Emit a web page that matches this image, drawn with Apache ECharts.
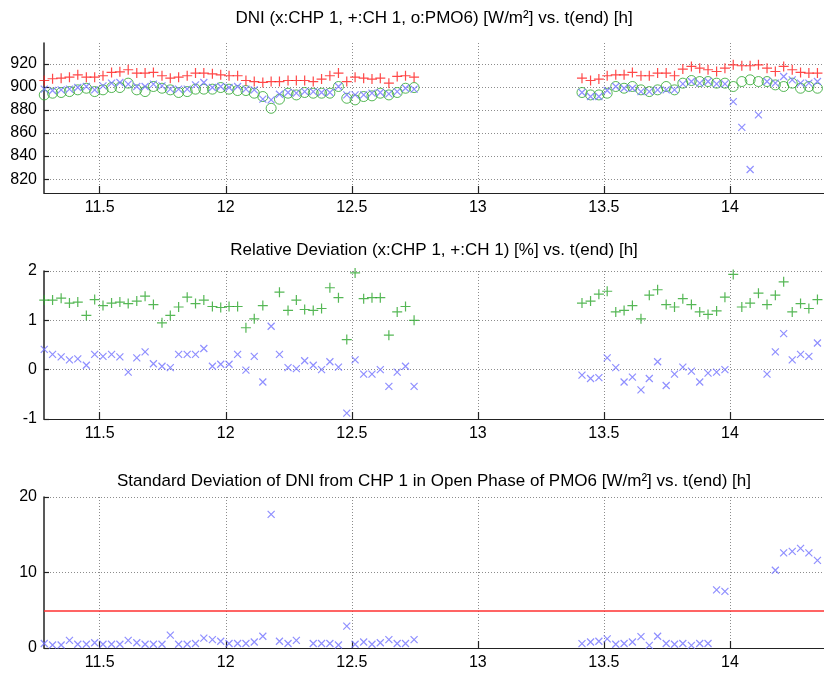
<!DOCTYPE html>
<html><head><meta charset="utf-8">
<script src="https://cdn.jsdelivr.net/npm/echarts@6/dist/echarts.min.js"></script>
<style>html,body{margin:0;padding:0;background:#fff}#c{width:824px;height:673px}</style>
</head><body><div id="c"></div>
<script>
// time stamps t(end) [h]
const times = [11.280, 11.313, 11.347, 11.380, 11.413, 11.447, 11.480, 11.513, 11.547, 11.580,
  11.613, 11.647, 11.680, 11.713, 11.747, 11.780, 11.813, 11.847, 11.880, 11.913,
  11.947, 11.980, 12.013, 12.047, 12.080, 12.113, 12.147, 12.180, 12.213, 12.247,
  12.280, 12.313, 12.347, 12.380, 12.413, 12.447, 12.480, 12.513, 12.547, 12.580,
  12.613, 12.647, 12.680, 12.713, 12.747,
  13.413, 13.447, 13.480, 13.513, 13.547, 13.580, 13.613, 13.647, 13.680, 13.713,
  13.747, 13.780, 13.813, 13.847, 13.880, 13.913, 13.947, 13.980, 14.013, 14.047,
  14.080, 14.113, 14.147, 14.180, 14.213, 14.247, 14.280, 14.313, 14.347];

// DNI [W/m2]
const dniCHP1 = [898, 896.8, 897.4, 898, 899.4, 900.3, 897.4, 900.9, 903.2, 903.8,
  902.3, 900.3, 900.3, 902.3, 900.9, 898, 898, 898, 901.7, 903.8,
  899.4, 900.3, 899.4, 900.3, 898, 897.4, 889.3, 888.7, 893.6, 895.1,
  894.5, 895.9, 895.9, 895.1, 895.1, 900.3, 893, 893, 893, 894.5,
  895.1, 893.9, 895.9, 898.8, 898,
  895.1, 891.6, 891.6, 896.8, 900.3, 898.8, 898.8, 895.9, 895.9, 897.4,
  897.4, 897.4, 902.6, 904.6, 903.2, 904.6, 902.6, 902.6, 887.2, 864.9,
  828.4, 875.7, 904.6, 903.2, 909, 906, 903.2, 903.2, 904.6];
const dniCH1 = [905.5, 907, 907.5, 908.4, 910.4, 908.4, 908.4, 909.6, 912.5, 913,
  914.8, 911.9, 911.9, 912.5, 909.6, 907.5, 908.4, 909.6, 911.9, 911.9,
  911.3, 910.4, 909.6, 909.6, 905.5, 904.6, 903.8, 904.6, 904.6, 905.5,
  905.5, 905.5, 904.6, 906.7, 909.6, 911.9, 904.6, 908.4, 907.5, 906.7,
  907.5, 903.2, 909, 909.6, 908.4,
  907.5, 905.5, 906.7, 909.6, 910.4, 910.4, 912.5, 909.6, 909.6, 911.9,
  911.9, 909.6, 915.4, 917.7, 916.2, 914.8, 913.3, 916.2, 919.1, 918.3,
  918.3, 919.1, 916.2, 913.3, 917.7, 914.8, 912.5, 911.9, 911.9];
const dniPMO6 = [893, 894.5, 895.1, 895.9, 897.4, 898.8, 895.9, 897.4, 899.4, 899.4,
  903.2, 897.4, 895.9, 900.3, 898.8, 897.4, 895.1, 895.9, 898, 898,
  898, 899.4, 898, 896.8, 896.8, 894.5, 891.6, 881.4, 889.3, 894.5,
  893, 895.1, 894.5, 894.5, 894.5, 900.3, 890.1, 888.7, 891.6, 892.2,
  894.5, 893, 895.1, 898.8, 899.4,
  895.1, 893, 893, 894.5, 900.3, 898.8, 900.3, 897.4, 895.9, 897.4,
  900.3, 897.4, 903.2, 905.5, 904.6, 904.6, 903.2, 903.2, 900.3, 904.6,
  906.1, 904.6, 904.6, 901.7, 900.3, 903.2, 898.8, 900.3, 898.8];

// Relative deviation [%]
const devCHP1 = [0.41, 0.31, 0.26, 0.20, 0.22, 0.09, 0.31, 0.27, 0.31, 0.26,
  -0.05, 0.24, 0.36, 0.12, 0.07, 0.04, 0.31, 0.31, 0.31, 0.43,
  0.07, 0.11, 0.11, 0.31, -0.01, 0.27, -0.25, 0.88, 0.31, 0.04,
  0.02, 0.18, 0.09, 0.0, 0.16, 0.05, -0.88, 0.20, -0.09, -0.09,
  0.0, -0.34, -0.05, 0.07, -0.34,
  -0.11, -0.18, -0.16, 0.24, 0.04, -0.25, -0.15, -0.41, -0.18, 0.16,
  -0.32, -0.09, 0.05, -0.03, -0.25, -0.07, -0.05, 0.0, null, null,
  null, null, -0.09, 0.36, 0.73, 0.20, 0.31, 0.27, 0.54];
const devCH1 = [1.41, 1.41, 1.45, 1.35, 1.37, 1.10, 1.42, 1.30, 1.35, 1.37,
  1.34, 1.39, 1.49, 1.32, 0.95, 1.10, 1.27, 1.47, 1.34, 1.41,
  1.28, 1.26, 1.28, 1.28, 0.85, 1.03, 1.30, null, 1.57, 1.20,
  1.41, 1.22, 1.20, 1.24, 1.66, 1.46, 0.61, 1.96, 1.44, 1.46,
  1.46, 0.70, 1.17, 1.28, 1.00,
  1.35, 1.39, 1.53, 1.59, 1.17, 1.20, 1.30, 1.03, 1.51, 1.62,
  1.32, 1.27, 1.44, 1.32, 1.17, 1.12, 1.19, 1.47, 1.93, 1.27,
  1.35, 1.55, 1.32, 1.51, 1.78, 1.17, 1.34, 1.24, 1.42];

// Standard deviation of DNI from CHP 1 [W/m2]
const stdCHP1 = [0.6, 0.4, 0.4, 1.0, 0.5, 0.5, 0.7, 0.5, 0.5, 0.5,
  1.0, 0.7, 0.5, 0.5, 0.5, 1.7, 0.5, 0.5, 0.6, 1.3,
  1.1, 0.9, 0.6, 0.6, 0.6, 0.8, 1.55, 17.7, 0.9, 0.6,
  1.0, null, 0.6, 0.6, 0.6, 0.4, 2.9, 0.5, 0.8, 0.5,
  0.7, 1.1, 0.6, 0.6, 1.1,
  0.58, 0.8, 0.9, 1.2, 0.5, 0.6, 0.8, 1.5, 0.35, 1.55,
  0.6, 0.5, 0.6, 0.35, 0.6, 0.6, 7.7, 7.5, null, null,
  null, null, null, 10.3, 12.6, 12.8, 13.2, 12.6, 11.6];
const stdLimit = 5;

// axes
const xTicks = [11.5, 12, 12.5, 13, 13.5, 14];
const xRange = [11.279, 14.373];
const dniTicks = [820, 840, 860, 880, 900, 920];
const dniRange = [808, 938];
const devTicks = [-1, 0, 1, 2];
const devRange = [-1, 2];
const stdTicks = [0, 10, 20];
const stdRange = [0, 20];

const titles = [
  'DNI (x:CHP 1, +:CH 1, o:PMO6) [W/m\u00B2] vs. t(end) [h]',
  'Relative Deviation (x:CHP 1, +:CH 1) [%] vs. t(end) [h]',
  'Standard Deviation of DNI from CHP 1 in Open Phase of PMO6 [W/m\u00B2] vs. t(end) [h]'
];

const FONT = '"Liberation Sans", Arial, sans-serif';
const X_MARK = 'path://M0,0L10,10M10,0L0,10';
const PLUS_MARK = 'path://M5,0L5,10M0,5L10,5';
const BLUE = '#7373ff', RED = '#ff1a1a', GREEN = '#2aa52a';

function pairs(vals) {
  return times.map((t, i) => [t, vals[i]]).filter(p => p[1] != null);
}

const gridDefs = [
  {left: 44, right: 0, top: 43, height: 150},
  {left: 44, right: 0, top: 271, height: 148},
  {left: 44, right: 0, top: 497, height: 151}
];
const titleTops = [10, 242, 473];

function xAxisFor(i) {
  return {
    type: 'value', gridIndex: i, min: xRange[0], max: xRange[1],
    axisLine: {show: true, onZero: false, lineStyle: {color: '#222', width: 1.2}},
    axisTick: {show: true, inside: true, length: 7, customValues: xTicks, lineStyle: {color: '#222', width: 1.2}},
    axisLabel: {customValues: xTicks, color: '#000', fontFamily: FONT, fontSize: 16, margin: 7},
    splitLine: {show: true, lineStyle: {color: '#8c8c8c', type: [1, 2], width: 1}}
  };
}
function yAxisFor(i, range, ticks) {
  return {
    type: 'value', gridIndex: i, min: range[0], max: range[1],
    axisLine: {show: true, onZero: false, lineStyle: {color: '#222', width: 1.5}},
    axisTick: {show: true, inside: true, length: 5, customValues: ticks, lineStyle: {color: '#222', width: 1.2}},
    axisLabel: {customValues: ticks, color: '#000', fontFamily: FONT, fontSize: 16, margin: 7},
    splitLine: {show: true, lineStyle: {color: '#8c8c8c', type: [1, 2], width: 1}}
  };
}
function markSeries(name, ax, vals, symbol, size, color, width) {
  return {
    name, type: 'scatter', xAxisIndex: ax, yAxisIndex: ax,
    data: pairs(vals), symbol, symbolSize: size,
    itemStyle: {color: 'rgba(0,0,0,0)', borderColor: color, borderWidth: width},
    emphasis: {disabled: true}, silent: true
  };
}

const option = {
  animation: false,
  backgroundColor: '#fff',
  title: titles.map((t, i) => ({
    text: t, left: 434, top: titleTops[i], textAlign: 'center', padding: 0,
    textStyle: {fontFamily: FONT, fontSize: 17, fontWeight: 'normal', color: '#000'}
  })),
  grid: gridDefs,
  xAxis: [0, 1, 2].map(xAxisFor),
  yAxis: [
    yAxisFor(0, dniRange, dniTicks),
    yAxisFor(1, devRange, devTicks),
    yAxisFor(2, stdRange, stdTicks)
  ],
  series: [
    markSeries('PMO6', 0, dniPMO6, 'circle', 10, GREEN, 1),
    markSeries('CHP 1', 0, dniCHP1, X_MARK, 7, BLUE, 1.2),
    markSeries('CH 1', 0, dniCH1, PLUS_MARK, 10, RED, 1.2),
    markSeries('CHP 1 dev', 1, devCHP1, X_MARK, 7, BLUE, 1.2),
    markSeries('CH 1 dev', 1, devCH1, PLUS_MARK, 10, GREEN, 1.2),
    Object.assign(markSeries('CHP 1 std', 2, stdCHP1, X_MARK, 7, BLUE, 1.2), {
      markLine: {
        silent: true, symbol: 'none', label: {show: false},
        lineStyle: {color: '#ff3030', type: 'solid', width: 1.5},
        data: [{yAxis: stdLimit}]
      }
    })
  ]
};
const chart = echarts.init(document.getElementById('c'), null, {renderer: 'canvas'});
chart.setOption(option);
</script>
</body></html>
